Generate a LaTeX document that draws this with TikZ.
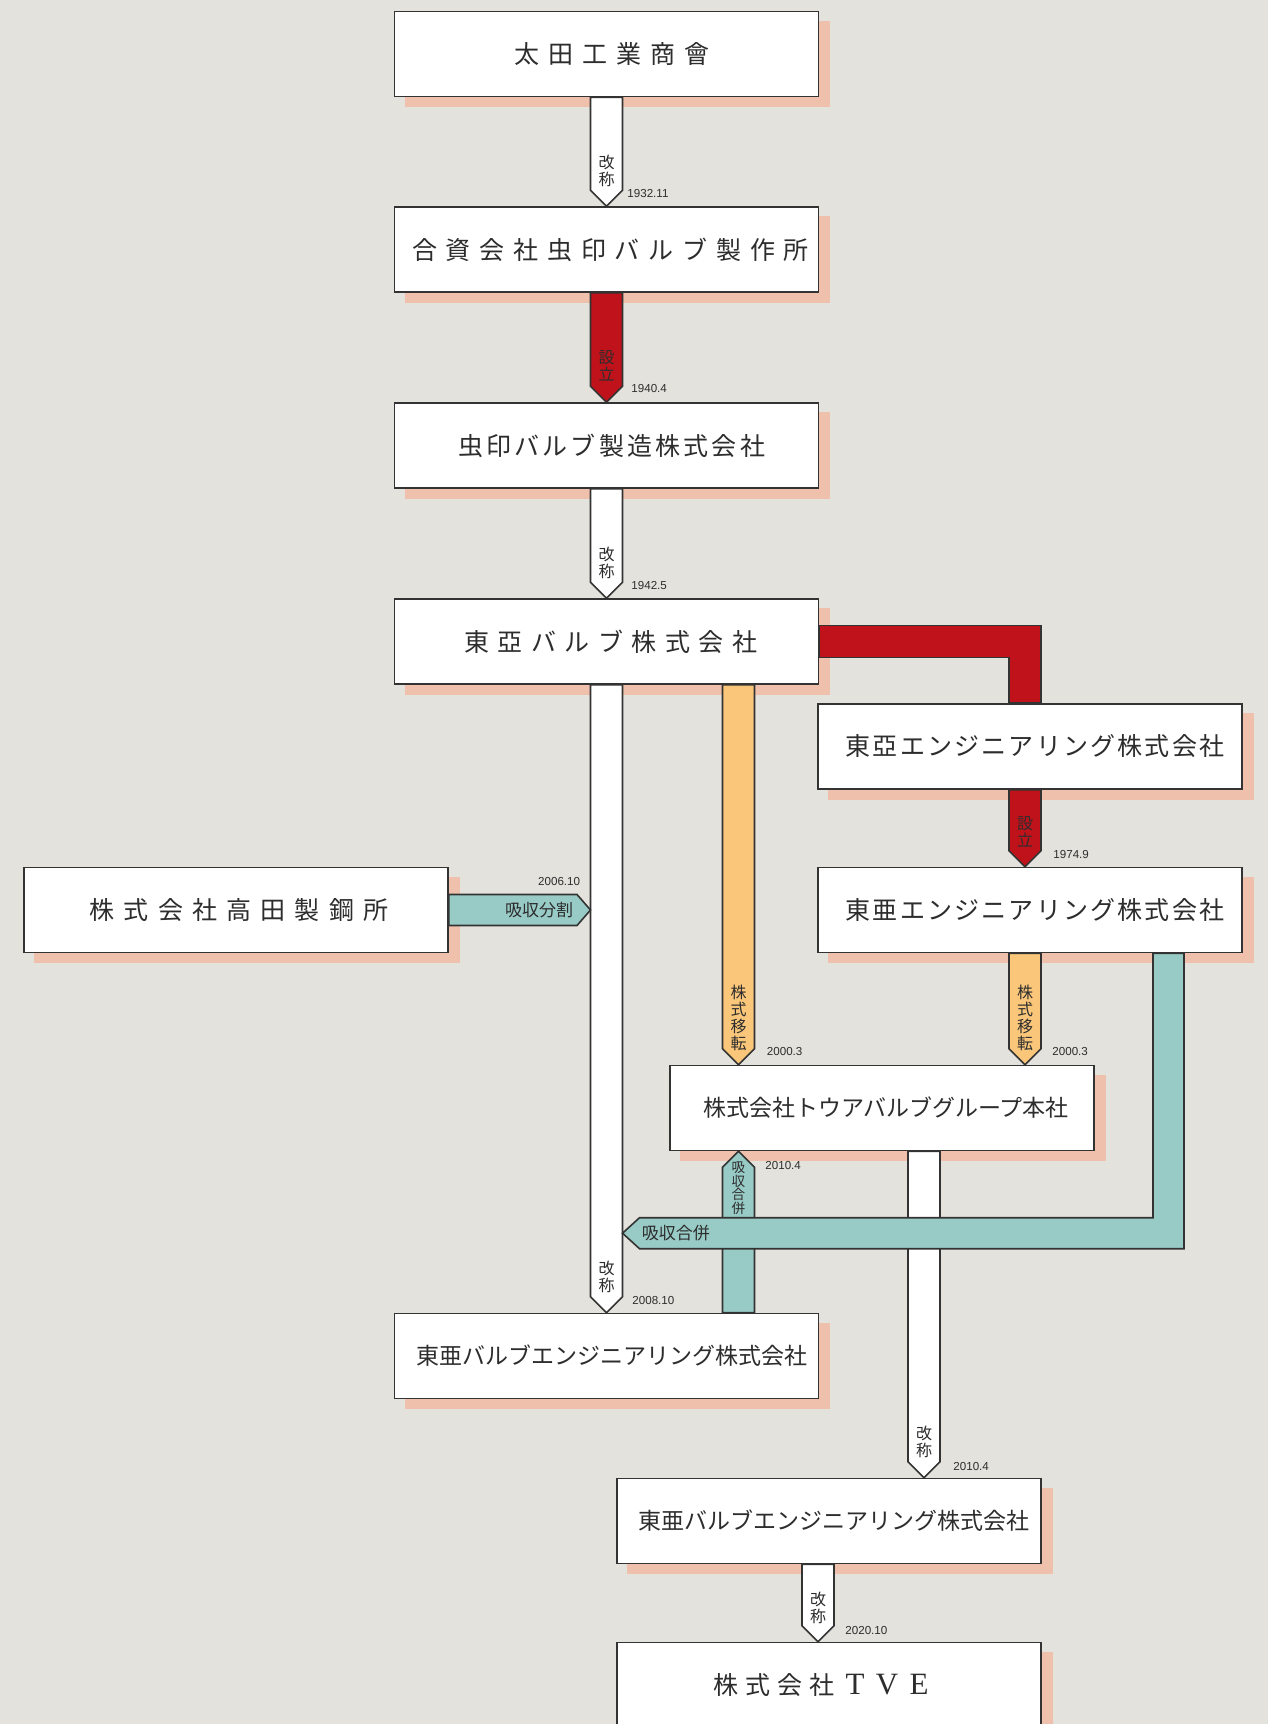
\documentclass[tikz,border=0pt]{standalone}
\usepackage{graphicx}
\usepackage{fontspec}
\setmainfont{Liberation Sans}
\newfontfamily\jp{Noto Sans CJK JP}
\newfontfamily\tve{Liberation Serif}
\usetikzlibrary{calc}
\definecolor{bgc}{RGB}{228,226,220}
\definecolor{shd}{RGB}{239,192,172}
\definecolor{redc}{RGB}{192,18,27}
\definecolor{orc}{RGB}{250,198,122}
\definecolor{tlc}{RGB}{152,203,198}
\definecolor{lc}{RGB}{51,51,51}
\definecolor{tc}{RGB}{45,45,45}
\pgfdeclarelayer{bg}\pgfdeclarelayer{mid}
\pgfsetlayers{bg,mid,main}
\makeatletter
\newcommand\trk[2]{\def\trk@k{#1}\trk@loop#2\trk@end}
\def\trk@loop#1#2\trk@end{#1\if\relax\detokenize{#2}\relax\else\kern\trk@k\relax\trk@loop#2\trk@end\fi}
\makeatother
\newcommand\wideletter[1]{\makebox[16pt]{\tve\fontsize{15.5pt}{16pt}\selectfont #1}}
\newcommand\blkdown[5]{%
  \coordinate (#5) at ($(#2.south)+(#4,0)$);
  \coordinate (#5t) at (#5 |- #3.north);
  \draw[#1] ($(#5)+(-16,0)$) -- ($(#5t)+(-16,-16)$) -- (#5t) -- ($(#5t)+(16,-16)$) -- ($(#5)+(16,0)$) -- cycle;
}
\begin{document}
\begin{tikzpicture}[x=0.5pt,y=-0.5pt,
  box/.style={draw=lc, line width=0.8pt, fill=white, minimum width=212pt, minimum height=42.5pt, inner sep=0pt, text=tc, font=\jp\fontsize{12.5pt}{14pt}\selectfont},
  conn/.style={draw=lc, line width=0.8pt, line join=miter},
  whiteC/.style={conn, fill=white},
  redC/.style={conn, fill=redc},
  orC/.style={conn, fill=orc},
  tlC/.style={conn, fill=tlc},
  vlab/.style={font=\jp\fontsize{8pt}{8.4pt}\selectfont, align=center, inner sep=0pt, text=tc, anchor=south},
  hlab/.style={font=\jp\fontsize{8.5pt}{9pt}\selectfont, inner sep=0pt, text=tc},
  datel/.style={font=\fontsize{5.8pt}{6pt}\selectfont, inner sep=0pt, text=tc, anchor=west}]
\useasboundingbox (0,0) rectangle (1268,1724);

% boxes
\node[box] (b1) at (606.5,54) {\kern5pt\trk{4.5pt}{太田工業商會}};
\node[box] (b2) at (606.5,249.5) {\kern4pt\trk{4.4pt}{合資会社虫印バルブ製作所}};
\node[box] (b3) at (606.5,445.5) {\kern5pt\trk{1.6pt}{虫印バルブ製造株式会社}};
\node[box] (b4) at (606.5,641.5) {\kern4pt\trk{4.25pt}{東亞バルブ株式会社}};
\node[box] (b5) at (1030,746.5) {\kern5pt\trk{1.1pt}{東亞エンジニアリング株式会社}};
\node[box] (b6) at (1030,910) {\kern5pt\trk{1.1pt}{東亜エンジニアリング株式会社}};
\node[box] (bt) at (236,910) {\kern3pt\trk{4.6pt}{株式会社高田製鋼所}};
\node[box] (b7) at (882,1108) {\kern4pt\fontsize{11.5pt}{13pt}\selectfont 株式会社トウアバルブグループ本社};
\node[box] (b8) at (606.5,1356) {\kern5pt\fontsize{11.5pt}{13pt}\selectfont 東亜バルブエンジニアリング株式会社};
\node[box] (b9) at (829,1521) {\kern5pt\fontsize{11.5pt}{13pt}\selectfont 東亜バルブエンジニアリング株式会社};
\node[box] (b10) at (829,1685) {\trk{3.5pt}{株式会社}\kern2.5pt\wideletter{T}\wideletter{V}\wideletter{E}\kern5pt};

\begin{pgfonlayer}{bg}
  \fill[bgc] (0,0) rectangle (1268,1724);
  \foreach \n in {b1,b2,b3,b4,b5,b6,bt,b7,b8,b9,b10}
    \fill[shd] ($(\n.south west)+(11,10)$) rectangle ($(\n.north east)+(11,10)$);
\end{pgfonlayer}

\begin{pgfonlayer}{mid}
  % vertical chain
  \blkdown{whiteC}{b1}{b2}{0}{a1}
  \node[vlab] at ($(a1t)+(0,-19)$) {改\\称};
  \blkdown{redC}{b2}{b3}{0}{a2}
  \node[vlab] at ($(a2t)+(0,-21)$) {設\\立};
  \blkdown{whiteC}{b3}{b4}{0}{a3}
  \node[vlab] at ($(a3t)+(0,-19)$) {改\\称};
  \blkdown{whiteC}{b4}{b8}{0}{a4}
  \node[vlab] at ($(a4t)+(0,-20)$) {改\\称};
  \blkdown{orC}{b4}{b7}{132}{a5}
  \node[vlab] at ($(a5t)+(0,-14)$) {株\\式\\移\\転};
  % red L to b5
  \coordinate (rc) at ($(b5.north)+(-5,0)$);
  \draw[redC] ($(b4.east)+(0,-16)$) -- ($(rc |- b4.east)+(16,-16)$) -- ($(rc)+(16,0)$) -- ($(rc)+(-16,0)$) -- ($(rc |- b4.east)+(-16,16)$) -- ($(b4.east)+(0,16)$) -- cycle;
  \blkdown{redC}{b5}{b6}{-5}{a6}
  \node[vlab] at ($(a6t)+(0,-19)$) {設\\立};
  \blkdown{orC}{b6}{b7}{-5}{a7}
  \node[vlab] at ($(a7t)+(0,-14)$) {株\\式\\移\\転};
  % Takada
  \coordinate (mL) at ($(bt.east -| a4)+(-16,0)$);
  \draw[tlC] ($(bt.east)+(0,-15.5)$) -- ($(mL)+(-13.5,-15.5)$) -- (mL) -- ($(mL)+(-13.5,15.5)$) -- ($(bt.east)+(0,15.5)$) -- cycle;
  \node[hlab, anchor=east] at ($(mL)+(-17,0)$) {吸収分割};
  % b7 -> b9
  \blkdown{whiteC}{b7}{b9}{42}{a8}
  \node[vlab] at ($(a8t)+(0,-20)$) {改\\称};
  \blkdown{whiteC}{b9}{b10}{-11}{a9}
  \node[vlab] at ($(a9t)+(0,-18)$) {改\\称};
  % teal up b8 -> b7
  \coordinate (u) at ($(b8.north)+(132,0)$);
  \coordinate (ut) at (u |- b7.south);
  \draw[tlC] ($(u)+(-16,0)$) -- ($(ut)+(-16,16)$) -- (ut) -- ($(ut)+(16,16)$) -- ($(u)+(16,0)$) -- cycle;
  % teal band from b6
  \coordinate (tcx) at ($(b6.south)+(138.5,0)$);
  \coordinate (mR) at ($(b8.north)+(16,-79.5)$);
  \draw[tlC] ($(tcx)+(-15.5,0)$) -- ($(tcx)+(15.5,0)$) -- ($(tcx |- mR)+(15.5,15.5)$) -- ($(mR)+(17,15.5)$) -- (mR) -- ($(mR)+(17,-15.5)$) -- ($(tcx |- mR)+(-15.5,-15.5)$) -- cycle;
  \node[hlab, anchor=west] at ($(mR)+(19,0)$) {吸収合併};
  \node[vlab, anchor=north, font=\jp\fontsize{6.8pt}{6.8pt}\selectfont] at ($(ut)+(0,10)$) {吸\\収\\合\\併};
\end{pgfonlayer}

% dates
\node[datel] (d1) at (627,194) {1932.11};
\node[datel] (d2) at (631,389) {1940.4};
\node[datel] (d3) at (631,585) {1942.5};
\node[datel] (d4) at (1053,854) {1974.9};
\node[datel, anchor=east] (d5) at (580.5,881) {2006.10};
\node[datel] (d6) at (766.5,1051) {2000.3};
\node[datel] (d7) at (1052,1051) {2000.3};
\node[datel] (d8) at (765,1165) {2010.4};
\node[datel] (d9) at (632,1300) {2008.10};
\node[datel] (d10) at (953,1466) {2010.4};
\node[datel] (d11) at (845,1630) {2020.10};
\end{tikzpicture}
\end{document}
